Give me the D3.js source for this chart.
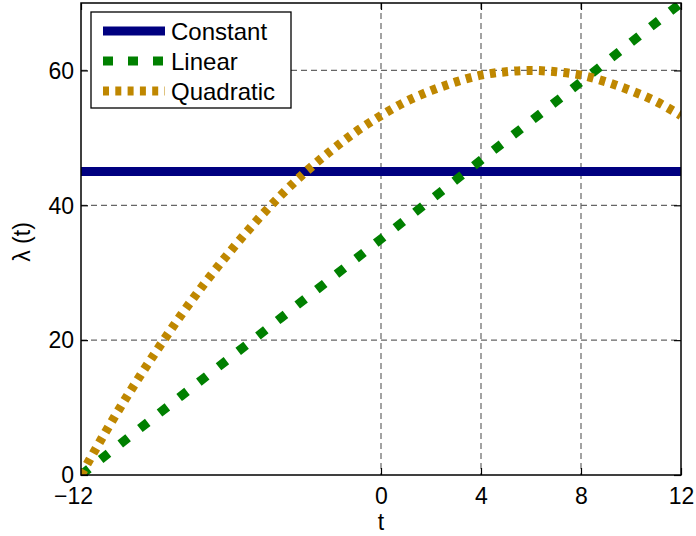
<!DOCTYPE html>
<html>
<head>
<meta charset="utf-8">
<script src="https://cdn.jsdelivr.net/npm/d3@7"></script>
<style>
  html, body { margin: 0; padding: 0; background: #fff; }
  svg { display: block; font-family: "Liberation Sans", Arial, Helvetica, sans-serif; }
</style>
</head>
<body>
<svg id="chart" width="696" height="536"></svg>
<script>
// ---- data ----
const xTicks = [-12, 0, 4, 8, 12];
const xTickLabels = ["\u221212", "0", "4", "8", "12"];
const yTicks = [0, 20, 40, 60];
const yTickLabels = ["0", "20", "40", "60"];

const constantT = [-12, 12];
const constantV = [45, 45];

const linearT = [-12, -8, -4, 0, 4, 8, 12];
const linearV = [0, 11.7, 23.3, 35, 46.7, 58.3, 70];

const quadT = [-12, -11, -10, -9, -8, -7, -6, -5, -4, -3, -2, -1, 0, 1, 2, 3, 4, 5, 6, 7, 8, 9, 10, 11, 12];
const quadV = [0, 6.5, 12.6, 18.3, 23.7, 28.7, 33.3, 37.6, 41.5, 45.0, 48.1, 50.9, 53.3, 55.4, 57.0, 58.3, 59.3, 59.8, 60.0, 59.8, 59.3, 58.3, 57.0, 55.4, 53.3];

const seriesNames = ["Constant", "Linear", "Quadratic"];
const xLabel = "t";
const yLabel = "\u03bb (t)";

// ---- layout ----
const W = 696, H = 536;
const m = { left: 81, right: 15, top: 3, bottom: 61 };
const iw = W - m.left - m.right, ih = H - m.top - m.bottom;

const svg = d3.select("#chart");
const g = svg.append("g").attr("transform", `translate(${m.left},${m.top})`);

const x = d3.scaleLinear().domain([-12, 12]).range([0, iw]);
const y = d3.scaleLinear().domain([0, 70]).range([ih, 0]);

svg.append("defs").append("clipPath").attr("id", "clip")
  .append("rect").attr("x", 0).attr("y", 0).attr("width", iw).attr("height", ih);

// grid
const grid = g.append("g");
grid.selectAll("line.gx").data(xTicks.filter(d => d > -12 && d < 12)).enter().append("line")
  .attr("x1", d => x(d)).attr("x2", d => x(d)).attr("y1", 0).attr("y2", ih)
  .attr("stroke", "#666").attr("stroke-width", 1.2).attr("stroke-dasharray", "6,4");
grid.selectAll("line.gy").data(yTicks.filter(d => d > 0 && d < 70)).enter().append("line")
  .attr("x1", 0).attr("x2", iw).attr("y1", d => y(d)).attr("y2", d => y(d))
  .attr("stroke", "#666").attr("stroke-width", 1.2).attr("stroke-dasharray", "6,4");

// axes (ticks inward)
const tickFont = 23;
const xAxis = d3.axisBottom(x).tickValues(xTicks).tickSizeInner(-7).tickSizeOuter(0)
  .tickFormat((d, i) => xTickLabels[i]).tickPadding(13);
const gx = g.append("g").attr("transform", `translate(0,${ih})`).call(xAxis);
const yAxis = d3.axisLeft(y).tickValues(yTicks).tickSizeInner(-7).tickSizeOuter(0)
  .tickFormat((d, i) => yTickLabels[i]).tickPadding(7);
const gy = g.append("g").call(yAxis);
// mirrored ticks on top / right
const xAxisTop = d3.axisTop(x).tickValues(xTicks).tickSizeInner(-7).tickSizeOuter(0).tickFormat("");
g.append("g").call(xAxisTop);
const yAxisRight = d3.axisRight(y).tickValues(yTicks).tickSizeInner(-7).tickSizeOuter(0).tickFormat("");
g.append("g").attr("transform", `translate(${iw},0)`).call(yAxisRight);

g.selectAll(".domain").remove();
g.selectAll(".tick line").attr("stroke", "#000").attr("stroke-width", 1.2);
gx.selectAll(".tick text").attr("font-size", tickFont).attr("fill", "#000")
  .attr("font-family", "Liberation Sans, Arial, sans-serif")
  .attr("dx", d => d < 0 ? -8 : 0);
gy.selectAll(".tick text").attr("font-size", tickFont).attr("fill", "#000")
  .attr("font-family", "Liberation Sans, Arial, sans-serif").attr("dy", "0.34em");

// series
const line = d3.line().x(d => x(d[0])).y(d => y(d[1]));
const lw = 9;
const plot = g.append("g").attr("clip-path", "url(#clip)");
const styles = [
  { color: "#000080", dash: null },
  { color: "#008000", dash: "10,15" },
  { color: "#bf8700", dash: "6,6.3" }
];
const seriesData = [
  constantT.map((t, i) => [t, constantV[i]]),
  linearT.map((t, i) => [t, linearV[i]]),
  quadT.map((t, i) => [t, quadV[i]])
];
const curves = [d3.curveLinear, d3.curveLinear, d3.curveMonotoneX];
seriesData.forEach((sd, i) => {
  plot.append("path").datum(sd)
    .attr("d", line.curve(curves[i]))
    .attr("fill", "none")
    .attr("stroke", styles[i].color)
    .attr("stroke-width", lw)
    .attr("stroke-dasharray", styles[i].dash);
});

// box
g.append("rect").attr("x", 0).attr("y", 0).attr("width", iw).attr("height", ih)
  .attr("fill", "none").attr("stroke", "#000").attr("stroke-width", 1.5);

// axis labels
svg.append("text").attr("x", m.left + x(0)).attr("y", 530)
  .attr("text-anchor", "middle").attr("font-size", tickFont).text(xLabel);
svg.append("text").attr("transform", `translate(30,${m.top + y(35) + 3}) rotate(-90)`)
  .attr("text-anchor", "middle").attr("font-size", tickFont).text(yLabel);

// legend
const lg = svg.append("g").attr("transform", "translate(91,12)");
lg.append("rect").attr("x", 0).attr("y", 0).attr("width", 200).attr("height", 96)
  .attr("fill", "#fff").attr("stroke", "#000").attr("stroke-width", 1.3);
seriesNames.forEach((name, i) => {
  const yy = 19 + i * 30;
  lg.append("line").attr("x1", 12).attr("x2", 74).attr("y1", yy).attr("y2", yy)
    .attr("stroke", styles[i].color).attr("stroke-width", lw)
    .attr("stroke-dasharray", styles[i].dash);
  lg.append("text").attr("x", 80).attr("y", yy).attr("dy", "0.36em")
    .attr("font-size", 24).text(name);
});
</script>
</body>
</html>
